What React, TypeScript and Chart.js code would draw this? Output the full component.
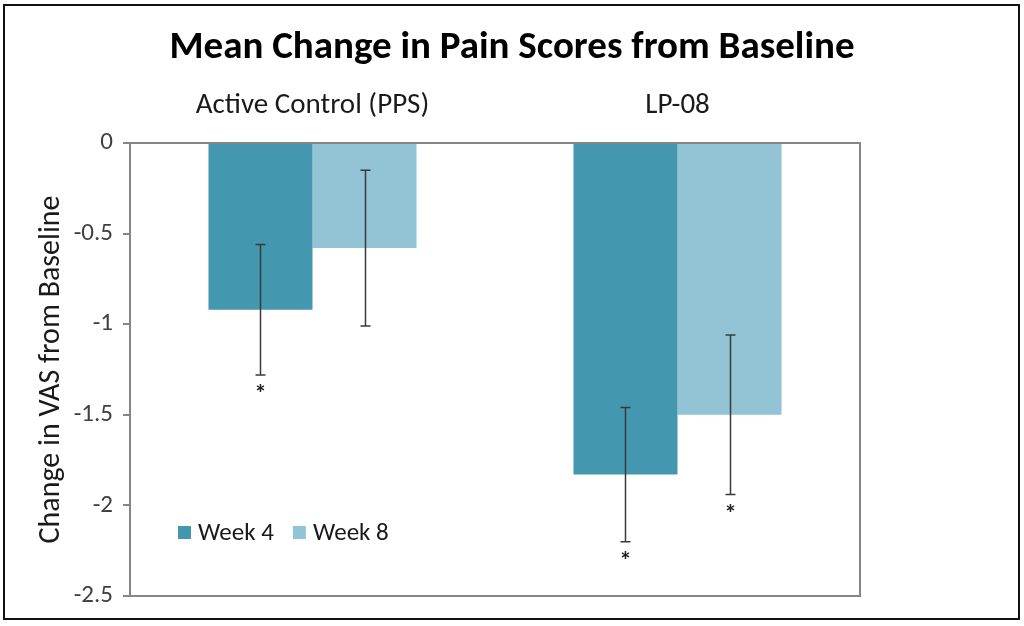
import { useEffect, useRef } from 'react';
import { Chart, registerables } from 'chart.js';

Chart.register(...registerables);

const FONT = "Carlito, Calibri, Lato, 'Noto Sans', sans-serif";

const titleText = 'Mean Change in Pain Scores from Baseline';
const yAxisTitle = 'Change in VAS from Baseline';
const categories = ['Active Control (PPS)', 'LP-08'];
const seriesLabels = ['Week 4', 'Week 8'];
const week4 = [-0.92, -1.83];
const week8 = [-0.58, -1.5];
const week4ErrUpper = [-0.56, -1.46];
const week4ErrLower = [-1.28, -2.2];
const week8ErrUpper = [-0.15, -1.06];
const week8ErrLower = [-1.01, -1.94];
const week4Significant = [true, true];
const week8Significant = [false, true];
const yMin = -2.5;
const yMax = 0;
const yStep = 0.5;

const COLOR_W4 = '#4397AF';
const COLOR_W8 = '#93C4D5';
const AXIS_COLOR = '#868686';

const errUpper = [week4ErrUpper, week8ErrUpper];
const errLower = [week4ErrLower, week8ErrLower];
const significant = [week4Significant, week8Significant];

const overlayPlugin = {
  id: 'overlay',
  afterDatasetsDraw(chart: any) {
    const { ctx, chartArea, scales } = chart;
    const y = scales.y;
    ctx.save();
    // error bars
    for (let d = 0; d < chart.data.datasets.length; d++) {
      const meta = chart.getDatasetMeta(d);
      meta.data.forEach((bar: any, i: number) => {
        const x = Math.round(bar.x) + 0.5;
        const yTop = y.getPixelForValue(errUpper[d][i]);
        const yBot = y.getPixelForValue(errLower[d][i]);
        ctx.strokeStyle = '#3a3a3a';
        ctx.lineWidth = 1.5;
        ctx.beginPath();
        ctx.moveTo(x, yTop);
        ctx.lineTo(x, yBot);
        ctx.moveTo(x - 5, yTop);
        ctx.lineTo(x + 5, yTop);
        ctx.moveTo(x - 5, yBot);
        ctx.lineTo(x + 5, yBot);
        ctx.stroke();
        if (significant[d][i]) {
          ctx.fillStyle = '#222';
          ctx.font = `bold 25px ${FONT}`;
          ctx.textAlign = 'center';
          ctx.textBaseline = 'middle';
          ctx.fillText('*', x, yBot + 20);
        }
      });
    }
    // plot frame
    ctx.strokeStyle = AXIS_COLOR;
    ctx.lineWidth = 2;
    ctx.strokeRect(chartArea.left, chartArea.top, chartArea.right - chartArea.left, chartArea.bottom - chartArea.top);
    // legend
    ctx.font = `25px ${FONT}`;
    ctx.textAlign = 'left';
    ctx.textBaseline = 'middle';
    let lx = chartArea.left + 48;
    const ly = chartArea.top + 390;
    chart.data.datasets.forEach((ds: any) => {
      ctx.fillStyle = ds.backgroundColor;
      ctx.fillRect(lx, ly - 7, 13, 13);
      ctx.fillStyle = '#1a1a1a';
      ctx.fillText(ds.label, lx + 20, ly + 1);
      lx += 20 + ctx.measureText(ds.label).width + 19;
    });
    ctx.restore();
  },
  afterDraw(chart: any) {
    const { ctx, width } = chart;
    ctx.save();
    ctx.font = `bold 39px ${FONT}`;
    ctx.fillStyle = '#000';
    ctx.textAlign = 'center';
    ctx.textBaseline = 'middle';
    ctx.fillText(titleText, width / 2, 48);
    ctx.restore();
  },
};

export default function App() {
  const ref = useRef<HTMLCanvasElement>(null);
  useEffect(() => {
    document.body.style.margin = '0';
    const chart = new Chart(ref.current!, {
      type: 'bar',
      data: {
        labels: categories,
        datasets: [
          { label: seriesLabels[0], data: week4, backgroundColor: COLOR_W4 },
          { label: seriesLabels[1], data: week8, backgroundColor: COLOR_W8 },
        ],
      },
      options: {
        animation: false,
        responsive: false,
        layout: { padding: { left: 0, right: 164, top: 76, bottom: 30 } },
        datasets: { bar: { categoryPercentage: 0.57, barPercentage: 1 } },
        plugins: {
          legend: { display: false },
          tooltip: { enabled: false },
          title: { display: false },
        },
        scales: {
          x: {
            position: 'top',
            grid: { display: false, drawTicks: false },
            border: { display: false },
            ticks: { color: '#1a1a1a', font: { family: FONT, size: 29 }, padding: 20 },
            afterFit: (s: any) => { s.height = 67; },
          },
          y: {
            min: yMin,
            max: yMax,
            grid: { display: true, drawOnChartArea: false, drawTicks: true, tickLength: 7, color: AXIS_COLOR, lineWidth: 2 },
            border: { display: true, color: AXIS_COLOR, width: 2 },
            ticks: {
              stepSize: yStep,
              color: '#404040',
              font: { family: FONT, size: 25 },
              padding: 10,
              callback: (v: any) => `${Number(v)}`,
            },
            title: {
              display: true,
              text: yAxisTitle,
              color: '#1a1a1a',
              font: { family: FONT, size: 30 },
              padding: { top: 33, bottom: 0 },
            },
            afterFit: (s: any) => { s.width = 130; },
          },
        },
      },
      plugins: [overlayPlugin],
    });
    return () => chart.destroy();
  }, []);
  return (
    <div style={{ position: 'relative', width: 1024, height: 626, background: '#fff' }}>
      <canvas ref={ref} width={1024} height={626} style={{ display: 'block' }} />
      <div style={{ position: 'absolute', left: 3, top: 4, width: 1013, height: 612, border: '2px solid #111', pointerEvents: 'none' }} />
    </div>
  );
}
